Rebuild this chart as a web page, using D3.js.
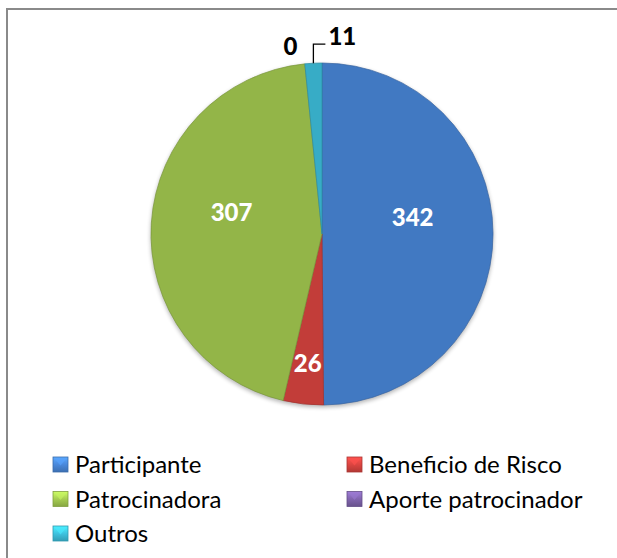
<!DOCTYPE html>
<html>
<head>
<meta charset="utf-8">
<script src="https://cdn.jsdelivr.net/npm/d3@7"></script>
<style>
  html, body { margin: 0; padding: 0; background: #fff; }
  svg { display: block; }
</style>
</head>
<body>
<div id="chart"></div>
<script>
// datos del grafico
const categorias = ["Participante", "Beneficio de Risco", "Patrocinadora", "Aporte patrocinador", "Outros"];
const valores = [342, 26, 307, 0, 11];
const colores = ["#4a89dc", "#dc4541", "#a6cd52", "#8165ae", "#3ec3e0"];

const width = 617, height = 558;
const cx = 322, cy = 234, radius = 171;

const svg = d3.select("#chart").append("svg")
  .attr("width", width)
  .attr("height", height);

// marco gris
svg.append("rect")
  .attr("x", 7).attr("y", 9)
  .attr("width", width + 10).attr("height", height + 10)
  .attr("fill", "#fff")
  .attr("stroke", "#8a8a8a")
  .attr("stroke-width", 2);

const defs = svg.append("defs");

// gradientes para el efecto de bisel de las porciones
colores.forEach((c, i) => {
  const g = defs.append("radialGradient")
    .attr("id", "grad" + i)
    .attr("gradientUnits", "userSpaceOnUse")
    .attr("cx", cx).attr("cy", cy).attr("r", radius);
  g.append("stop").attr("offset", "0%").attr("stop-color", c);
  g.append("stop").attr("offset", "91%").attr("stop-color", c);
  g.append("stop").attr("offset", "95%").attr("stop-color", d3.color(c).brighter(0.2));
  g.append("stop").attr("offset", "100%").attr("stop-color", d3.color(c).darker(0.35));

  const lg = defs.append("linearGradient")
    .attr("id", "leg" + i)
    .attr("x1", 0).attr("y1", 0).attr("x2", 0).attr("y2", 1);
  lg.append("stop").attr("offset", "0%").attr("stop-color", d3.color(c).brighter(0.6));
  lg.append("stop").attr("offset", "50%").attr("stop-color", c);
  lg.append("stop").attr("offset", "100%").attr("stop-color", d3.color(c).darker(0.6));
});

const filtro = defs.append("filter").attr("id", "sombra")
  .attr("color-interpolation-filters", "sRGB")
  .attr("x", "-10%").attr("y", "-10%").attr("width", "120%").attr("height", "120%");
filtro.append("feGaussianBlur").attr("in", "SourceAlpha").attr("stdDeviation", 2);
filtro.append("feOffset").attr("dx", 0).attr("dy", 1.5);
filtro.append("feComponentTransfer").append("feFuncA").attr("type", "linear").attr("slope", 0.3);
const fm = filtro.append("feMerge");
fm.append("feMergeNode");
fm.append("feMergeNode").attr("in", "SourceGraphic");

const datos = categorias.map((cat, i) => ({ cat, valor: valores[i], i }));

const pie = d3.pie().sort(null).value(d => d.valor);
const arcos = pie(datos);

const arc = d3.arc().innerRadius(0).outerRadius(radius);

const g = svg.append("g").attr("transform", `translate(${cx},${cy})`);

g.append("g").attr("filter", "url(#sombra)")
  .selectAll("path")
  .data(arcos.filter(d => d.data.valor > 0))
  .join("path")
  .attr("d", arc)
  .attr("fill", d => `url(#grad${d.data.i})`)
  .attr("stroke", d => d3.color(colores[d.data.i]).darker(0.9))
  .attr("stroke-width", 0.7);

// etiquetas dentro de las porciones
const arcGrande = d3.arc().innerRadius(radius * 0.53).outerRadius(radius * 0.53);
const arcChico = d3.arc().innerRadius(radius * 0.76).outerRadius(radius * 0.76);
const fuente = "Lato, 'Open Sans', 'DejaVu Sans', sans-serif";

arcos.forEach(d => {
  const frac = d.data.valor / d3.sum(valores);
  if (frac < 0.02) return;
  let [x, y] = (frac > 0.2 ? arcGrande : arcChico).centroid(d);
  if (frac > 0.2) y -= 16;
  g.append("text")
    .attr("x", x).attr("y", y)
    .attr("dy", "0.36em")
    .attr("text-anchor", "middle")
    .attr("font-family", fuente)
    .attr("font-weight", 900)
    .attr("font-size", 24)
    .attr("fill", "#fff")
    .text(d.data.valor);
});

// etiquetas externas (valores pequenos)
arcos.forEach(d => {
  const frac = d.data.valor / d3.sum(valores);
  if (frac >= 0.02) return;
  const medio = (d.startAngle + d.endAngle) / 2;
  if (d.data.valor === 0) {
    const rr = radius + 14;
    const x = Math.sin(medio) * rr, y = -Math.cos(medio) * rr;
    g.append("text")
      .attr("x", x - 6).attr("y", y - 4)
      .attr("dy", "0.36em")
      .attr("text-anchor", "end")
      .attr("font-family", fuente)
      .attr("font-weight", 900)
      .attr("font-size", 24)
      .attr("fill", "#000")
      .text(d.data.valor);
  } else {
    const x0 = Math.sin(medio) * radius, y0 = -Math.cos(medio) * radius;
    const y1 = y0 - 19;
    g.append("path")
      .attr("d", `M${x0},${y0}L${x0},${y1}L${x0 + 12},${y1}`)
      .attr("fill", "none")
      .attr("stroke", "#000")
      .attr("stroke-width", 1.3);
    g.append("text")
      .attr("x", x0 + 15).attr("y", y1 - 8)
      .attr("dy", "0.36em")
      .attr("text-anchor", "start")
      .attr("font-family", fuente)
      .attr("font-weight", 900)
      .attr("font-size", 24)
      .attr("fill", "#000")
      .text(d.data.valor);
  }
});

// leyenda
const colX = [53, 347];
const filaY = d3.scaleLinear().domain([0, 1]).range([464.5, 499]);

const leyenda = svg.append("g");
datos.forEach((d, i) => {
  const col = i % 2, fila = Math.floor(i / 2);
  const x = colX[col], y = filaY(fila);
  const item = leyenda.append("g").attr("transform", `translate(${x},${y})`);
  item.append("rect")
    .attr("x", 0).attr("y", -7.5)
    .attr("width", 15).attr("height", 15)
    .attr("fill", `url(#leg${i})`)
    .attr("stroke", d3.color(colores[i]).darker(0.7))
    .attr("stroke-width", 0.8);
  item.append("path")
    .attr("d", "M1.5,-6L13.5,-6L7.5,1Z")
    .attr("fill", d3.color(colores[i]).brighter(0.5))
    .attr("opacity", 0.6);
  item.append("text")
    .attr("x", 22).attr("y", 0)
    .attr("dy", "0.36em")
    .attr("font-family", fuente)
    .attr("font-size", 24)
    .attr("fill", "#000")
    .text(d.cat);
});
</script>
</body>
</html>
